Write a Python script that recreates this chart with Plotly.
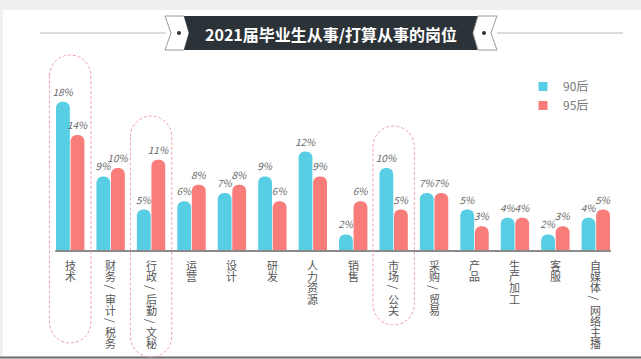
import plotly.graph_objects as go

categories = ["技术", "财务/审计/税务", "行政/后勤/文秘", "运营", "设计", "研发", "人力资源",
              "销售", "市场/公关", "采购/贸易", "产品", "生产加工", "客服", "自媒体/网络主播"]
s90 = [18, 9, 5, 6, 7, 9, 12, 2, 10, 7, 5, 4, 2, 4]
s95 = [14, 10, 11, 8, 8, 6, 9, 6, 5, 7, 3, 4, 3, 5]
series_names = ["90后", "95后"]
highlight = ["技术", "行政/后勤/文秘", "市场/公关"]
title_text = "2021届毕业生从事/打算从事的岗位"

BLUE = "#58CEE4"
RED = "#F77C7A"
FONT = "Noto Sans CJK SC"

W, H = 641, 359
ML, MR, MT, MB = 50, 25, 52, 108
PW = W - ML - MR
PH = H - MT - MB
PB = H - MB
N = len(categories)


def PX(x):
    return (x - ML) / PW


def PY(y):
    return (PB - y) / PH


def cat_px(i):
    return ML + (i + 0.5) * PW / N


fig = go.Figure()
for name, vals, col in [(series_names[0], s90, BLUE), (series_names[1], s95, RED)]:
    fig.add_trace(go.Bar(
        x=categories, y=vals, name=name, marker=dict(color=col, line=dict(width=0)),
        text=vals, texttemplate="%{y}%", textposition="outside", cliponaxis=False,
        constraintext="none",
        textfont=dict(family=FONT, size=10, color="#666", style="italic"),
        showlegend=False, hoverinfo="skip",
    ))
    fig.add_trace(go.Scatter(
        x=[None], y=[None], mode="markers", name=name,
        marker=dict(symbol="square", size=9, color=col),
    ))

shapes = []
# white card
shapes.append(dict(type="rect", xref="paper", yref="paper", x0=PX(3), x1=PX(641), y0=PY(356), y1=PY(10),
                   fillcolor="white", line=dict(width=0), layer="below"))
shapes.append(dict(type="line", xref="paper", yref="paper", x0=PX(0), x1=PX(641), y0=PY(357.5), y1=PY(357.5),
                   line=dict(color="#6e6e6e", width=2)))
# title banner
ty0, tym, ty1 = 16, 33, 50
shapes.append(dict(type="line", xref="paper", yref="paper", x0=PX(40), x1=PX(166), y0=PY(tym), y1=PY(tym),
                   line=dict(color="#dcdcdc", width=2)))
shapes.append(dict(type="line", xref="paper", yref="paper", x0=PX(497), x1=PX(623), y0=PY(tym), y1=PY(tym),
                   line=dict(color="#dcdcdc", width=2)))


def poly(pts):
    return "M" + " L".join(f"{PX(x):.5f},{PY(y):.5f}" for x, y in pts) + " Z"


shapes.append(dict(type="path", xref="paper", yref="paper",
                   path=poly([(165, ty0), (184, ty0), (189, tym), (184, ty1), (165, ty1), (171, tym)]),
                   fillcolor="white", line=dict(color="#9a9a9a", width=1)))
shapes.append(dict(type="path", xref="paper", yref="paper",
                   path=poly([(184, ty0), (478, ty0), (473, tym), (478, ty1), (184, ty1), (189, tym)]),
                   fillcolor="#2c3338", line=dict(width=0)))
shapes.append(dict(type="path", xref="paper", yref="paper",
                   path=poly([(478, ty0), (497, ty0), (491, tym), (497, ty1), (478, ty1), (473, tym)]),
                   fillcolor="white", line=dict(color="#9a9a9a", width=1)))
for cx in (179, 484):
    shapes.append(dict(type="circle", xref="paper", yref="paper", x0=PX(cx - 2), x1=PX(cx + 2),
                       y0=PY(tym + 2), y1=PY(tym - 2), fillcolor="#2c3338", line=dict(width=0)))

# baseline
shapes.append(dict(type="line", xref="paper", yref="paper", x0=PX(cat_px(0) - 15), x1=PX(cat_px(N - 1) + 15),
                   y0=0, y1=0, line=dict(color="#8a8a8a", width=2)))

# dashed highlight capsules (top, bottom in px)
capsule_extent = {"技术": (55, 343), "行政/后勤/文秘": (116, 357), "市场/公关": (126, 325)}
k = 0.5523
r = 20.7
for cat in highlight:
    i = categories.index(cat)
    cx = cat_px(i)
    tp, bt = capsule_extent[cat]

    def P(x, y):
        return f"{PX(x):.5f},{PY(y):.5f}"

    path = (f"M{P(cx - r, tp + r)} C{P(cx - r, tp + r - k * r)} {P(cx - k * r, tp)} {P(cx, tp)} "
            f"C{P(cx + k * r, tp)} {P(cx + r, tp + r - k * r)} {P(cx + r, tp + r)} "
            f"L{P(cx + r, bt - r)} "
            f"C{P(cx + r, bt - r + k * r)} {P(cx + k * r, bt)} {P(cx, bt)} "
            f"C{P(cx - k * r, bt)} {P(cx - r, bt - r + k * r)} {P(cx - r, bt - r)} Z")
    shapes.append(dict(type="path", xref="paper", yref="paper", path=path,
                       line=dict(color="#f2a3ab", width=1, dash="3px,2px"), fillcolor="rgba(0,0,0,0)"))

annotations = [dict(text=f"<b>{title_text}</b>", xref="paper", yref="paper", x=PX(331), y=PY(33.5),
                    showarrow=False, font=dict(family=FONT, size=16, color="white"),
                    xanchor="center", yanchor="middle")]
for i, cat in enumerate(categories):
    for j, ch in enumerate(cat):
        annotations.append(dict(text=ch, xref="paper", yref="paper", x=PX(cat_px(i)), y=PY(265 + 11.2 * j),
                                showarrow=False, xanchor="center", yanchor="middle",
                                textangle=90 if ch == "/" else 0,
                                font=dict(family=FONT, size=11, color="#555")))

fig.update_layout(
    width=W, height=H, margin=dict(l=ML, r=MR, t=MT, b=MB),
    paper_bgcolor="#efefef", plot_bgcolor="rgba(0,0,0,0)",
    barmode="group", bargap=0.28, bargroupgap=0.05, barcornerradius=7,
    xaxis=dict(type="category", range=[-0.5, N - 0.5], showticklabels=False, showgrid=False,
               zeroline=False, showline=False, ticks="", fixedrange=True),
    yaxis=dict(range=[0, 24], visible=False, fixedrange=True),
    legend=dict(x=PX(523), y=PY(72), xanchor="left", yanchor="top", bgcolor="rgba(0,0,0,0)",
                font=dict(family=FONT, size=12, color="#777"), itemwidth=30, tracegroupgap=0),
    shapes=shapes, annotations=annotations,
    font=dict(family=FONT),
)

fig.write_html("out.html", config={"displayModeBar": False},
               post_script="document.body.style.margin='0';document.body.style.overflow='hidden';")
